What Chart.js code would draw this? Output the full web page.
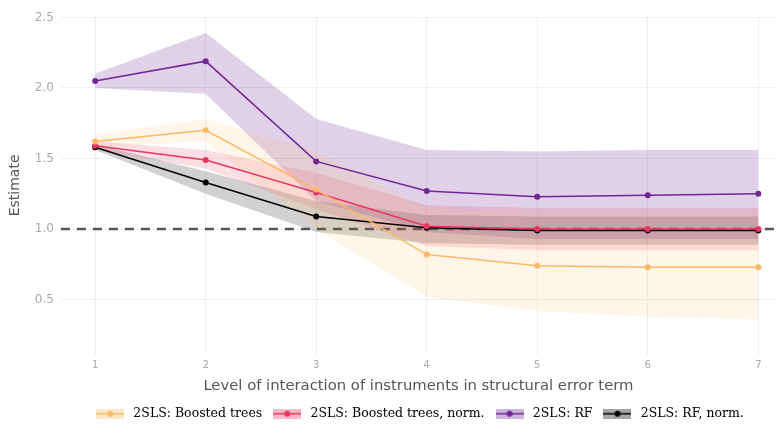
<!DOCTYPE html>
<html>
<head>
<meta charset="utf-8">
<script src="https://cdn.jsdelivr.net/npm/chart.js@4.4.1/dist/chart.umd.min.js"></script>
<style>
  html, body { margin: 0; padding: 0; background: #fff; }
  #wrap { width: 780px; height: 433px; }
</style>
</head>
<body>
<div id="wrap"><canvas id="chart"></canvas></div>
<script>
// interaction level (x) and the estimates of each method
let levels = [1, 2, 3, 4, 5, 6, 7];
let yTicks = [0.5, 1.0, 1.5, 2.0, 2.5];

let boostEst = [1.62, 1.70, 1.28, 0.82, 0.74, 0.73, 0.73];
let boostLo  = [1.58, 1.62, 1.00, 0.52, 0.42, 0.38, 0.36];
let boostHi  = [1.67, 1.78, 1.55, 1.15, 1.12, 1.12, 1.12];

let boostNormEst = [1.59, 1.49, 1.26, 1.02, 1.00, 1.00, 1.00];
let boostNormLo  = [1.56, 1.43, 1.14, 0.88, 0.85, 0.85, 0.85];
let boostNormHi  = [1.62, 1.56, 1.40, 1.17, 1.15, 1.15, 1.15];

let rfEst = [2.05, 2.19, 1.48, 1.27, 1.23, 1.24, 1.25];
let rfLo  = [2.00, 1.96, 1.20, 0.98, 0.93, 0.93, 0.93];
let rfHi  = [2.10, 2.39, 1.78, 1.56, 1.55, 1.56, 1.56];

let rfNormEst = [1.58, 1.33, 1.09, 1.01, 0.99, 0.99, 0.99];
let rfNormLo  = [1.56, 1.25, 0.98, 0.90, 0.89, 0.89, 0.89];
let rfNormHi  = [1.60, 1.41, 1.20, 1.10, 1.09, 1.09, 1.09];

let seriesNames = ["2SLS: Boosted trees", "2SLS: Boosted trees, norm.", "2SLS: RF", "2SLS: RF, norm."];
let lineColors = ["rgb(253,184,99)", "rgb(232,54,96)", "rgb(112,40,150)", "rgb(0,0,0)"];
let bandColors = ["rgba(253,190,110,0.16)", "rgba(232,54,96,0.16)", "rgba(112,40,150,0.22)", "rgba(0,0,0,0.18)"];

let estimates = [boostEst, boostNormEst, rfEst, rfNormEst];
let lows = [boostLo, boostNormLo, rfLo, rfNormLo];
let highs = [boostHi, boostNormHi, rfHi, rfNormHi];

function pts(arr) { return levels.map((x, i) => ({ x: x, y: arr[i] })); }

let datasets = [];
// lines on top
estimates.forEach((est, k) => {
  datasets.push({
    label: seriesNames[k],
    data: pts(est),
    borderColor: lineColors[k],
    backgroundColor: lineColors[k],
    borderWidth: 1.5,
    pointRadius: 3,
    pointBorderWidth: 0,
    fill: false,
    order: 0
  });
});
// bands underneath
lows.forEach((lo, k) => {
  let loIndex = datasets.length;
  datasets.push({
    label: "lo" + k, data: pts(lo), borderWidth: 0, pointRadius: 0,
    fill: false, order: 1
  });
  datasets.push({
    label: "hi" + k, data: pts(highs[k]), borderWidth: 0, pointRadius: 0,
    fill: { target: loIndex }, backgroundColor: bandColors[k], order: 1
  });
});

// little legend keys: shaded box with line and dot
function legendKey(k) {
  let c = document.createElement("canvas");
  c.width = 28; c.height = 10;
  let g = c.getContext("2d");
  g.fillStyle = bandColors[k].replace(/[\d.]+\)$/, "0.35)");
  g.fillRect(0, 0, 28, 10);
  g.strokeStyle = lineColors[k];
  g.lineWidth = 1.5;
  g.beginPath(); g.moveTo(0, 5); g.lineTo(28, 5); g.stroke();
  g.fillStyle = lineColors[k];
  g.beginPath(); g.arc(14, 5, 3, 0, Math.PI * 2); g.fill();
  return c;
}

const refLine = {
  id: "refLine",
  beforeDatasetsDraw(chart) {
    let y = chart.scales.y.getPixelForValue(1.0);
    let a = chart.chartArea;
    let ctx = chart.ctx;
    ctx.save();
    ctx.strokeStyle = "#555";
    ctx.lineWidth = 2.5;
    ctx.setLineDash([9, 7]);
    ctx.beginPath(); ctx.moveTo(a.left, y); ctx.lineTo(a.right, y); ctx.stroke();
    ctx.restore();
  }
};

new Chart(document.getElementById("chart"), {
  type: "line",
  data: { datasets: datasets },
  plugins: [refLine],
  options: {
    responsive: true,
    maintainAspectRatio: false,
    animation: false,
    layout: { padding: { top: 16, right: 0, left: 3, bottom: 3 } },
    plugins: {
      tooltip: { enabled: false },
      legend: {
        position: "bottom",
        fullSize: false,
        labels: {
          usePointStyle: true,
          pointStyleWidth: 34,
          boxHeight: 11,
          padding: 8,
          color: "#444",
          font: { family: "DejaVu Serif", size: 12.5 },
          generateLabels: () => seriesNames.map((n, k) => ({
            text: n, pointStyle: legendKey(k), datasetIndex: k,
            fillStyle: lineColors[k], strokeStyle: lineColors[k], lineWidth: 0
          }))
        }
      }
    },
    scales: {
      x: {
        type: "linear",
        min: 0.69,
        max: 7.16,
        afterBuildTicks: s => { s.ticks = levels.map(v => ({ value: v })); },
        grid: { color: "#efefef", drawTicks: false },
        border: { display: false },
        ticks: { color: "#aaa", font: { family: "DejaVu Sans", size: 10 }, padding: 5 },
        title: { display: true, text: "Level of interaction of instruments in structural error term",
                 color: "#555", font: { family: "DejaVu Sans", size: 14.8 }, padding: { top: 1, bottom: 4 } }
      },
      y: {
        min: 0.11,
        max: 2.51,
        afterBuildTicks: s => { s.ticks = yTicks.map(v => ({ value: v })); },
        grid: { color: "#efefef", drawTicks: false },
        border: { display: false },
        ticks: { color: "#aaa", font: { family: "DejaVu Sans", size: 12 }, padding: 7,
                 callback: v => v.toFixed(1) },
        title: { display: true, text: "Estimate", color: "#555",
                 font: { family: "DejaVu Sans", size: 14 }, padding: { bottom: 4 } }
      }
    }
  }
});
</script>
</body>
</html>
